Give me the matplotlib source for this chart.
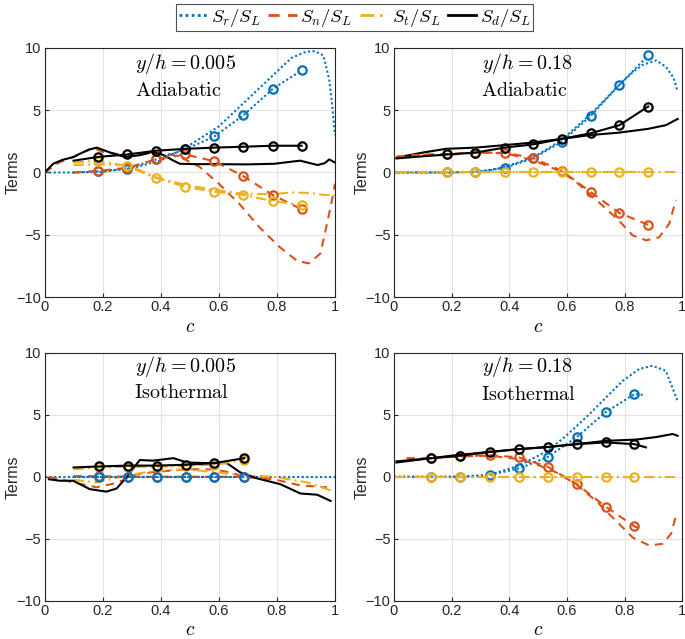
import numpy as np
import matplotlib
matplotlib.use("Agg")
import matplotlib.pyplot as plt
from matplotlib.lines import Line2D

plt.rcParams['font.family'] = ['Liberation Sans', 'DejaVu Sans']
plt.rcParams['mathtext.fontset'] = 'cm'

BLUE = '#0072BD'
ORANGE = '#D95319'
YELLOW = '#EDB120'
BLACK = '#000000'

# ---- top-left: y/h = 0.005, Adiabatic ----
tl_marks = [0.185, 0.285, 0.385, 0.485, 0.585, 0.685, 0.785, 0.885]
tl_model_c = [0.1, 0.185, 0.285, 0.385, 0.485, 0.585, 0.685, 0.785, 0.885]
tl_sr_model = [0.0, 0.1, 0.3, 1.05, 1.85, 2.9, 4.6, 6.7, 8.2]
tl_sn_model = [0.0, 0.13, 0.38, 1.07, 1.45, 0.9, -0.3, -1.8, -2.95]
tl_st_model = [0.8, 0.95, 0.5, -0.45, -1.15, -1.55, -1.8, -2.3, -2.6]
tl_sd_model = [0.95, 1.25, 1.45, 1.75, 1.9, 2.0, 2.07, 2.15, 2.15]

tl_sr_c = [0, 0.1, 0.2, 0.3, 0.4, 0.5, 0.6, 0.7, 0.8, 0.85, 0.9, 0.93, 0.96, 0.98, 0.99, 1.0]
tl_sr = [0, 0, 0.05, 0.35, 0.95, 2.2, 3.7, 5.9, 8.1, 9.2, 9.7, 9.75, 9.4, 7.5, 5.5, 3.0]
tl_sn_c = [0, 0.05, 0.1, 0.167, 0.2, 0.28, 0.36, 0.41, 0.466, 0.534, 0.6, 0.67, 0.74,
           0.81, 0.87, 0.91, 0.95, 0.97, 0.99, 1.0]
tl_sn = [0, 0.8, 1.25, 2.0, 1.65, 1.4, 1.5, 1.6, 1.25, 0.45, -0.9, -2.5, -4.4,
         -6.0, -7.1, -7.3, -6.5, -4.4, -2.2, -0.9]
tl_st_c = [0.1, 0.185, 0.285, 0.385, 0.485, 0.585, 0.685, 0.785, 0.85, 0.92, 0.96, 1.0]
tl_st = [0.6, 0.67, 0.6, -0.4, -1.0, -1.4, -1.7, -1.75, -1.6, -1.65, -1.8, -1.8]
tl_sd_c = [0, 0.015, 0.03, 0.06, 0.1, 0.13, 0.155, 0.18, 0.22, 0.26, 0.28, 0.33, 0.37,
           0.41, 0.44, 0.466, 0.52, 0.59, 0.695, 0.79, 0.88, 0.94, 0.965, 0.98, 1.0]
tl_sd = [0, 0.35, 0.7, 1.0, 1.25, 1.6, 1.85, 2.0, 1.65, 1.35, 1.25, 1.4, 1.65,
         1.4, 1.0, 0.7, 0.67, 0.67, 0.65, 0.7, 0.95, 0.6, 0.75, 1.05, 0.8]

# ---- top-right: y/h = 0.18, Adiabatic ----
tr_marks = [0.185, 0.283, 0.384, 0.482, 0.582, 0.682, 0.782, 0.882]
tr_model_c = [0.01, 0.1, 0.185, 0.283, 0.384, 0.482, 0.582, 0.682, 0.782, 0.882]
tr_sr_model = [0, 0, 0, 0.05, 0.38, 1.13, 2.47, 4.54, 7.04, 9.4]
tr_sn_model = [1.3, 1.45, 1.48, 1.6, 1.58, 1.18, 0.13, -1.56, -3.25, -4.2]
tr_st_model = [0, 0, 0, 0, 0, 0, 0, 0, 0, 0]
tr_sd_model = [1.13, 1.3, 1.45, 1.6, 2.0, 2.25, 2.7, 3.15, 3.8, 5.3]

tr_sr_c = [0, 0.1, 0.2, 0.28, 0.34, 0.384, 0.43, 0.48, 0.53, 0.58, 0.63, 0.678, 0.73,
           0.78, 0.83, 0.863, 0.91, 0.943, 0.97, 0.984]
tr_sr = [0, 0, 0, 0.05, 0.2, 0.45, 0.8, 1.2, 1.85, 2.6, 3.6, 4.6, 5.8,
         7.0, 8.1, 8.65, 9.0, 8.5, 7.6, 6.5]
tr_sn_c = [0, 0.1, 0.185, 0.283, 0.384, 0.482, 0.582, 0.632, 0.678, 0.78, 0.828,
           0.875, 0.92, 0.955, 0.978]
tr_sn = [1.13, 1.4, 1.4, 1.6, 1.55, 1.0, 0.05, -0.75, -1.7, -3.85, -5.05,
         -5.45, -5.2, -4.1, -2.2]
tr_st_c = [0, 0.5, 0.984]
tr_st = [0, 0, 0]
tr_sd_c = [0.01, 0.1, 0.18, 0.285, 0.384, 0.48, 0.582, 0.678, 0.78, 0.88, 0.943, 0.984]
tr_sd = [1.2, 1.6, 1.9, 2.0, 2.2, 2.4, 2.7, 3.0, 3.2, 3.5, 3.8, 4.3]

# ---- bottom-left: y/h = 0.005, Isothermal ----
bl_marks = [0.187, 0.286, 0.386, 0.486, 0.585, 0.688]
bl_model_c = [0.1, 0.187, 0.286, 0.386, 0.486, 0.585, 0.688]
bl_sr_model = [0, 0, 0, 0, 0, 0, 0]
bl_sn_model = [0.05, 0.05, 0, 0, 0, 0, 0]
bl_st_model = [0.6, 0.75, 0.8, 0.8, 0.9, 0.97, 1.37]
bl_sd_model = [0.75, 0.83, 0.9, 0.9, 0.97, 1.1, 1.5]

bl_sr_c = [0, 0.5, 1.0]
bl_sr = [0, 0, 0]
bl_sn_c = [0.015, 0.098, 0.179, 0.248, 0.317, 0.386, 0.49, 0.582, 0.639, 0.697,
           0.789, 0.881, 0.973]
bl_sn = [0, -0.45, -0.85, -0.5, 0.2, 0.4, 0.6, 0.6, 0.35, -0.05, -0.2, -0.7, -0.85]
bl_st_c = [0.1, 0.179, 0.282, 0.386, 0.49, 0.593, 0.674, 0.789, 0.904, 0.985]
bl_st = [-0.25, -0.45, 0.1, 0.5, 0.6, 0.35, 0.15, 0.0, -0.45, -1.1]
bl_sd_c = [0.015, 0.052, 0.098, 0.156, 0.213, 0.248, 0.282, 0.328, 0.374, 0.444,
           0.49, 0.559, 0.628, 0.674, 0.732, 0.812, 0.881, 0.939, 0.985]
bl_sd = [-0.2, -0.32, -0.32, -1.0, -1.2, -0.95, -0.05, 1.35, 1.3, 1.5,
         1.15, 1.1, 1.1, 0.35, -0.13, -0.6, -1.35, -1.45, -1.95]

# ---- bottom-right: y/h = 0.18, Isothermal ----
br_marks = [0.13, 0.23, 0.332, 0.434, 0.534, 0.634, 0.734, 0.834]
br_sr_model_c = [0.0, 0.13, 0.23, 0.332, 0.434, 0.534, 0.634, 0.734, 0.834, 0.868]
br_sr_model = [0, 0, 0, 0.15, 0.67, 1.6, 3.2, 5.2, 6.67, 6.6]
br_sn_model_c = [0.13, 0.23, 0.332, 0.434, 0.534, 0.634, 0.734, 0.834, 0.857]
br_sn_model = [1.5, 1.64, 1.75, 1.56, 0.8, -0.6, -2.4, -4.0, -4.2]
br_st_model_c = [0.0, 0.13, 0.23, 0.332, 0.434, 0.534, 0.634, 0.734, 0.834]
br_st_model = [0, 0, 0, 0, 0, 0, 0, 0, 0]
br_sd_model_c = [0.009, 0.13, 0.23, 0.332, 0.434, 0.534, 0.634, 0.734, 0.834, 0.874]
br_sd_model = [1.24, 1.5, 1.7, 2.0, 2.23, 2.4, 2.63, 2.77, 2.63, 2.37]

br_sr_c = [0, 0.1, 0.2, 0.28, 0.332, 0.434, 0.534, 0.597, 0.678, 0.736, 0.794,
           0.851, 0.897, 0.943, 0.984]
br_sr = [0, 0, 0, 0.05, 0.15, 0.9, 2.1, 3.3, 5.05, 6.4, 7.75, 8.7, 8.95, 8.55, 6.1]
br_sn_c = [0.044, 0.13, 0.231, 0.332, 0.434, 0.494, 0.563, 0.632, 0.701, 0.77,
           0.828, 0.886, 0.932, 0.961, 0.98]
br_sn = [1.5, 1.5, 1.64, 1.7, 1.42, 1.0, 0.35, -0.6, -1.95, -3.55, -4.9, -5.55,
         -5.4, -4.6, -3.0]
br_st_c = [0, 0.5, 0.984]
br_st = [0, 0, 0]
br_sd_c = [0.009, 0.101, 0.217, 0.332, 0.434, 0.534, 0.632, 0.736, 0.84, 0.909,
           0.967, 0.984]
br_sd = [1.15, 1.42, 1.75, 2.0, 2.23, 2.4, 2.63, 2.9, 3.0, 3.2, 3.45, 3.3]

styles = {
    'sr': dict(color=BLUE, ls=(0, (1, 1.2))),
    'sn': dict(color=ORANGE, ls=(0, (4, 3))),
    'st': dict(color=YELLOW, ls=(0, (5, 2, 1, 2))),
    'sd': dict(color=BLACK, ls='-'),
}

fig = plt.figure(figsize=(6.85, 6.39), dpi=100)
w1, w2 = 0.424, 0.421
axes = [
    fig.add_axes([0.065, 0.5352, w1, 0.3897]),
    fig.add_axes([0.575, 0.5352, w2, 0.3897]),
    fig.add_axes([0.065, 0.0599, w1, 0.388]),
    fig.add_axes([0.575, 0.0599, w2, 0.388]),
]


def draw_dns(ax, key, c, v):
    ax.plot(c, v, lw=1.5, **styles[key])


def draw_model(ax, key, c, v, marks):
    idx = list(np.where(np.isin(np.round(c, 3), np.round(marks, 3)))[0])
    ax.plot(c, v, lw=1.5, marker='o', markevery=idx, ms=6, mfc='none',
            mew=1.6, **styles[key])


panels = [
    (axes[0], [('sr', tl_sr_c, tl_sr), ('sn', tl_sn_c, tl_sn), ('st', tl_st_c, tl_st), ('sd', tl_sd_c, tl_sd)],
     [('sr', tl_model_c, tl_sr_model), ('sn', tl_model_c, tl_sn_model), ('st', tl_model_c, tl_st_model),
      ('sd', tl_model_c, tl_sd_model)], tl_marks),
    (axes[1], [('sr', tr_sr_c, tr_sr), ('sn', tr_sn_c, tr_sn), ('st', tr_st_c, tr_st), ('sd', tr_sd_c, tr_sd)],
     [('sr', tr_model_c, tr_sr_model), ('sn', tr_model_c, tr_sn_model), ('st', tr_model_c, tr_st_model),
      ('sd', tr_model_c, tr_sd_model)], tr_marks),
    (axes[2], [('sr', bl_sr_c, bl_sr), ('sn', bl_sn_c, bl_sn), ('st', bl_st_c, bl_st), ('sd', bl_sd_c, bl_sd)],
     [('sn', bl_model_c, bl_sn_model), ('st', bl_model_c, bl_st_model), ('sd', bl_model_c, bl_sd_model),
      ('sr', bl_model_c, bl_sr_model)], bl_marks),
    (axes[3], [('sr', br_sr_c, br_sr), ('sn', br_sn_c, br_sn), ('st', br_st_c, br_st), ('sd', br_sd_c, br_sd)],
     [('sr', br_sr_model_c, br_sr_model), ('sn', br_sn_model_c, br_sn_model),
      ('st', br_st_model_c, br_st_model), ('sd', br_sd_model_c, br_sd_model)], br_marks),
]

for ax, dns, model, marks in panels:
    for key, c, v in dns:
        draw_dns(ax, key, c, v)
    for key, c, v in model:
        draw_model(ax, key, c, v, marks)

titles = [
    ('$y/h = 0.005$', 0.484, 0.939, r'$\mathrm{Adiabatic}$', 0.46, 0.831),
    ('$y/h = 0.18$', 0.465, 0.939, r'$\mathrm{Adiabatic}$', 0.453, 0.831),
    ('$y/h = 0.005$', 0.484, 0.946, r'$\mathrm{Isothermal}$', 0.472, 0.839),
    ('$y/h = 0.18$', 0.465, 0.944, r'$\mathrm{Isothermal}$', 0.467, 0.83),
]

for ax, (t1, x1, y1, t2, x2, y2) in zip(axes, titles):
    ax.set_xlim(0, 1)
    ax.set_ylim(-10, 10)
    ax.set_xticks([0, 0.2, 0.4, 0.6, 0.8, 1])
    ax.set_xticklabels(['0', '0.2', '0.4', '0.6', '0.8', '1'])
    ax.set_yticks([-10, -5, 0, 5, 10])
    ax.grid(True, color='#e3e3e3', lw=0.8)
    ax.set_axisbelow(True)
    ax.tick_params(direction='in', length=3, labelsize=10.5, colors='#262626', pad=2.5)
    for s in ax.spines.values():
        s.set_color('#262626')
        s.set_linewidth(0.8)
    ax.set_xlabel('$c$', fontsize=14, labelpad=3)
    ax.set_ylabel('Terms', fontsize=11.5, color='#262626', labelpad=-3)
    ax.text(x1, y1, t1, transform=ax.transAxes, ha='center', va='center', fontsize=14.5)
    ax.text(x2, y2, t2, transform=ax.transAxes, ha='center', va='center', fontsize=14.5)

handles = [Line2D([], [], lw=2.0, **styles[k]) for k in ['sr', 'sn', 'st', 'sd']]
labels = ['$S_r/S_L$', '$S_n/S_L$', '$S_t/S_L$', '$S_d/S_L$']
leg = fig.legend(handles, labels, loc='upper center', bbox_to_anchor=(0.518, 1.0), ncol=4,
                 fontsize=13.5, frameon=True, fancybox=False, edgecolor='#262626',
                 handlelength=1.5, handletextpad=0.2, columnspacing=0.4,
                 borderpad=0.15, borderaxespad=0.2)
leg.get_frame().set_linewidth(0.8)

plt.savefig('out.png', dpi=100)
